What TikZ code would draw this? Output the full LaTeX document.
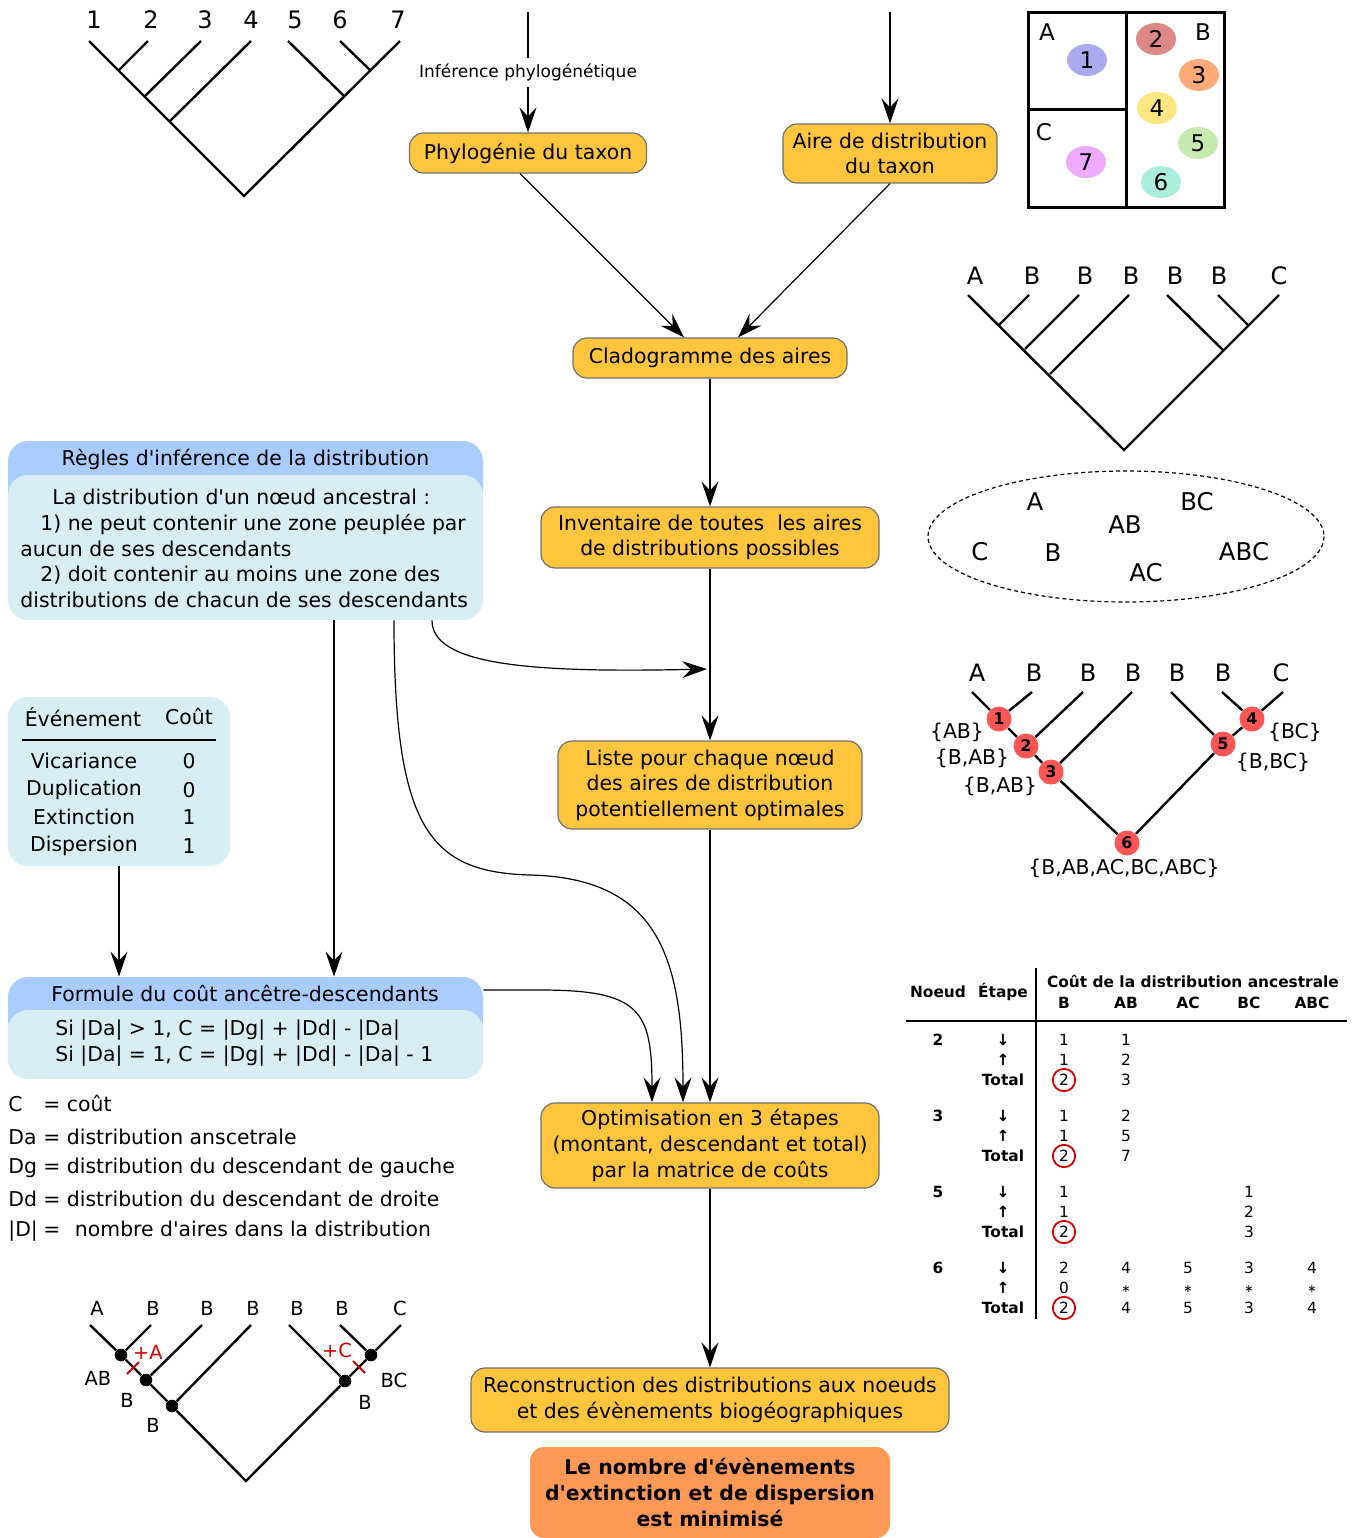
\documentclass[tikz,border=0pt]{standalone}
\usepackage{fontspec}
\setmainfont{DejaVu Sans}[Ligatures=TeXOff]
\usetikzlibrary{arrows.meta,shapes.geometric}
\definecolor{boxorange}{HTML}{FFC53D}
\definecolor{boxedge}{HTML}{707070}
\definecolor{finalorange}{HTML}{FF9955}
\definecolor{headblue}{HTML}{AACCFF}
\definecolor{bodyblue}{HTML}{D7EEF4}
\definecolor{markred}{HTML}{D40000}
\definecolor{nodered}{HTML}{FF5555}
\definecolor{zoneone}{HTML}{AAAAEE}
\definecolor{zonetwo}{HTML}{DE8787}
\definecolor{zonethree}{HTML}{FFAA77}
\definecolor{zonefour}{HTML}{FFE680}
\definecolor{zonefive}{HTML}{C6E9AF}
\definecolor{zonesix}{HTML}{AAEEDD}
\definecolor{zoneseven}{HTML}{EEAAFF}
\begin{document}
\begin{tikzpicture}[x=0.5pt,y=-0.5pt,
    every node/.style={inner sep=0pt,font=\fontsize{10.2}{12.8}\selectfont},
    stepbox/.style={draw=boxedge,fill=boxorange,line width=0.6pt,rounded corners=7pt,align=center},
    finalbox/.style={fill=finalorange,rounded corners=7pt,align=center,font=\fontsize{10.2}{12.8}\selectfont\bfseries},
    headbox/.style={fill=headblue,rounded corners=10pt},
    bodybox/.style={fill=bodyblue,rounded corners=10pt},
    arr/.style={line width=0.6pt,-{Stealth[length=12.5pt,width=8.5pt,inset=4.5pt]}},
    branch/.style={line width=1.2pt},
    leaflabel/.style={font=\fontsize{12}{14}\selectfont},
    smalltree/.style={font=\fontsize{9.7}{11}\selectfont},
    blackdot/.style={circle,fill=black,minimum size=6.3pt},
    rnode/.style={circle,fill=nodered,minimum size=12.5pt,font=\fontsize{8}{9}\selectfont\bfseries},
    areablob/.style={ellipse,minimum width=20pt,minimum height=16pt,font=\fontsize{11.5}{13}\selectfont},
    tabcell/.style={font=\fontsize{7.7}{9}\selectfont},
    tabbold/.style={font=\fontsize{7.7}{9}\selectfont\bfseries}]
    \useasboundingbox (0,0) rectangle (1359,1538);

    % phylogeny of the taxon
    \foreach \x/\n in {94/1,151/2,205/3,251/4,295/5,340/6,398/7}
        \node[leaflabel] (pl\n) at (\x,20) {\n};
    \foreach \x [count=\i] in {89,148,201,251,288,340,400}
        \coordinate (pt\i) at (\x,41);
    \coordinate (pa) at (119,70);
    \coordinate (pb) at (145,96);
    \coordinate (pc) at (170,121);
    \coordinate (pd) at (370,70);
    \coordinate (pe) at (344,96);
    \coordinate (proot) at (244,196);
    \draw[branch] (pt1) -- (proot) -- (pt7);
    \draw[branch] (pt2) -- (pa) (pt3) -- (pb) (pt4) -- (pc) (pt5) -- (pe) (pt6) -- (pd);

    % map of the areas
    \draw[line width=1.5pt] (1028,12) rectangle (1224,207);
    \draw[line width=1.5pt] (1126,12) -- (1126,207) (1028,109) -- (1126,109);
    \node[font=\fontsize{11.5}{13}\selectfont] (zoneA) at (1047,32) {A};
    \node[font=\fontsize{11.5}{13}\selectfont] (zoneB) at (1203,32) {B};
    \node[font=\fontsize{11.5}{13}\selectfont] (zoneC) at (1044,132) {C};
    \node[areablob,fill=zoneone] (sp1) at (1087,60) {1};
    \node[areablob,fill=zonetwo] (sp2) at (1156,39) {2};
    \node[areablob,fill=zonethree] (sp3) at (1199,75) {3};
    \node[areablob,fill=zonefour] (sp4) at (1157,108) {4};
    \node[areablob,fill=zonefive] (sp5) at (1198,143) {5};
    \node[areablob,fill=zonesix] (sp6) at (1161,182) {6};
    \node[areablob,fill=zoneseven] (sp7) at (1086,162) {7};

    % main steps
    \node[stepbox,minimum width=118.5pt,minimum height=20pt] (phylo) at (528,153) {Phylogénie du taxon};
    \node[stepbox,minimum width=107pt,minimum height=29.5pt] (aire) at (890,153.5) {Aire de distribution\\du taxon};
    \node[stepbox,minimum width=137pt,minimum height=20pt] (clado) at (710,358) {Cladogramme des aires};
    \node[stepbox,minimum width=169pt,minimum height=30.5pt] (invent) at (710,537.5) {Inventaire de toutes\ \ les aires\\de distributions possibles};
    \node[stepbox,minimum width=152pt,minimum height=44pt] (liste) at (710,785) {Liste pour chaque nœud\\des aires de distribution\\potentiellement optimales};
    \node[stepbox,minimum width=169pt,minimum height=42.5pt] (optim) at (710,1145.5) {Optimisation en 3 étapes\\(montant, descendant et total)\\par la matrice de coûts};
    \node[stepbox,minimum width=239pt,minimum height=32pt] (recon) at (710,1400) {Reconstruction des distributions aux noeuds\\et des évènements biogéographiques};
    \node[finalbox,minimum width=180pt,minimum height=45.5pt] (result) at (710,1492.5) {Le nombre d'évènements\\d'extinction et de dispersion\\est minimisé};

    \coordinate (phylosrc) at (528,12);
    \coordinate (airesrc) at (890,12);
    \draw[arr] (phylosrc) -- node[fill=white,inner xsep=1pt,inner ysep=3pt,font=\fontsize{8.5}{10}\selectfont] (inferlbl) {Inférence phylogénétique} (phylo.north);
    \draw[arr] (airesrc) -- (aire.north);
    \draw[arr] ([xshift=-4pt]phylo.south) -- ([xshift=-13pt]clado.north);
    \draw[arr] (aire.south) -- ([xshift=14pt]clado.north);
    \draw[arr] (clado) -- (invent);
    \draw[arr] (invent) -- (liste);
    \draw[arr] (liste) -- (optim);
    \draw[arr] (optim) -- (recon);

    % inference rules
    \node[headbox,minimum width=237.5pt,minimum height=44.5pt] (ruleshead) at (245.5,485.5) {};
    \node[bodybox,minimum width=237.5pt,minimum height=72.5pt] (rules) at (245.5,547.5) {};
    \node (rulestitle) at (245.5,459) {Règles d'inférence de la distribution};
    \node[align=left,anchor=north west] (rulestext) at (20,489) {\hspace*{16pt}La distribution d'un nœud ancestral :\\\hspace*{10pt}1) ne peut contenir une zone peuplée par\\aucun de ses descendants\\\hspace*{10pt}2) doit contenir au moins une zone des\\distributions de chacun de ses descendants};

    % event costs
    \node[bodybox,minimum width=111pt,minimum height=84.5pt] (events) at (119,781.5) {};
    \node (evhead) at (83,717) {Événement};
    \node (costhead) at (189,716) {Coût};
    \draw[line width=0.6pt] (22,740) -- (216,740);
    \foreach \y/\ev/\c in {761/Vicariance/0,790/Duplication/0,817/Extinction/1,846/Dispersion/1} {
        \node (ev\y) at (84,\y) {\ev};
        \node (cost\y) at (189,\y) {\c};
    }

    % cost formula
    \node[headbox,minimum width=237.5pt,minimum height=31.5pt] (formhead) at (245.5,1008.5) {};
    \node[bodybox,minimum width=237.5pt,minimum height=34.5pt] (formula) at (245.5,1044.5) {};
    \node (formtitle) at (245,993) {Formule du coût ancêtre-descendants};
    \node[align=left,anchor=west] (formtext) at (55,1043) {Si |Da| > 1, C = |Dg| + |Dd| - |Da|\\Si |Da| = 1, C = |Dg| + |Dd| - |Da| - 1};

    \draw[arr] (events.south) -- (events.south |- formhead.north);
    \draw[arr] ([xshift=44.25pt]rules.south) -- ([xshift=44.25pt]formhead.north);
    \coordinate (j1) at (707,669);
    \draw[arr] ([xshift=93.25pt]rules.south) .. controls (432,665) and (530,673) .. (j1);
    \draw[arr] ([xshift=74.25pt]rules.south) .. controls (394,830) and (430,872) .. (530,875)
        .. controls (660,878) and (683,960) .. ([xshift=-13.5pt]optim.north);
    \draw[arr] ([yshift=9.25pt]formhead.east) -- (540,990) .. controls (640,990) and (652,1010) .. ([xshift=-29pt]optim.north);

    % legend
    \foreach \y/\s/\d [count=\i] in {1111/C/= coût,1144/Da/= distribution anscetrale,1173/Dg/= distribution du descendant de gauche,1206/Dd/= distribution du descendant de droite,1236/{|D|}/{=\hspace{4pt} nombre d'aires dans la distribution}} {
        \node[anchor=base west] (sym\i) at (8,\y) {\s};
        \node[anchor=base west] (def\i) at (43,\y) {\d};
    }

    % area cladogram
    \foreach \x/\n [count=\i] in {975/A,1032/B,1085/B,1131/B,1175/B,1219/B,1279/C}
        \node[leaflabel] (cl\i) at (\x,276) {\n};
    \foreach \x [count=\i] in {968,1029,1079,1129,1167,1218,1279}
        \coordinate (ct\i) at (\x,295);
    \coordinate (ca) at (999,325);
    \coordinate (cb) at (1025,349);
    \coordinate (cc) at (1050,374);
    \coordinate (cd) at (1248,325);
    \coordinate (ce) at (1223,350);
    \coordinate (croot) at (1124,450);
    \draw[branch] (ct1) -- (croot) -- (ct7);
    \draw[branch] (ct2) -- (ca) (ct3) -- (cb) (ct4) -- (cc) (ct5) -- (ce) (ct6) -- (cd);

    % possible distributions
    \draw[line width=0.6pt,dash pattern=on 2pt off 1.5pt] (1126,536.5) ellipse [x radius=198, y radius=65.5];
    \foreach \x/\y/\d in {1035/502/A,1197/502/BC,1125/525/AB,980/552/C,1053/553/B,1244/552/ABC,1146/573/AC}
        \node[font=\fontsize{12.2}{14}\selectfont] (set\d) at (\x,\y) {\d};

    % candidate distributions at nodes
    \foreach \x/\n [count=\i] in {977/A,1034/B,1088/B,1133/B,1177/B,1223/B,1281/C}
        \node[leaflabel] (rl\i) at (\x,673) {\n};
    \foreach \x [count=\i] in {972,1032,1083,1132,1171,1222,1283}
        \coordinate (rt\i) at (\x,692);
    \node[rnode] (r1) at (999,719) {1};
    \node[rnode] (r2) at (1026,746) {2};
    \node[rnode] (r3) at (1051,772) {3};
    \node[rnode] (r4) at (1252,719) {4};
    \node[rnode] (r5) at (1223,744) {5};
    \node[rnode] (r6) at (1127,843) {6};
    \draw[branch] (rt1) -- (r1) -- (r2) -- (r3) -- (r6) -- (r5) -- (r4) -- (rt7);
    \draw[branch] (rt2) -- (r1) (rt3) -- (r2) (rt4) -- (r3) (rt5) -- (r5) (rt6) -- (r4);
    \node (set1) at (957,732) {\{AB\}};
    \node (set2) at (972,758) {\{B,AB\}};
    \node (set3) at (1000,786) {\{B,AB\}};
    \node (set4) at (1295,732) {\{BC\}};
    \node (set5) at (1273,762) {\{B,BC\}};
    \node (set6) at (1124,868) {\{B,AB,AC,BC,ABC\}};

    % cost matrix
    \node[tabbold] (hnode) at (938,992) {Noeud};
    \node[tabbold] (hstep) at (1003,992) {Étape};
    \node[tabbold] (hcost) at (1193,981) {Coût de la distribution ancestrale};
    \foreach \x/\d in {1064/B,1126/AB,1188/AC,1249/BC,1312/ABC}
        \node[tabbold] (col\d) at (\x,1003) {\d};
    \draw[line width=0.7pt] (1036,968) -- (1036,1319);
    \draw[line width=0.7pt] (906,1021) -- (1347,1021);
    \foreach \g/\y in {2/1040,3/1116,5/1192,6/1268} {
        \node[tabbold] (g\g) at (938,\y) {\g};
        \node[tabbold] (down\g) at (1003,\y) {↓};
        \node[tabbold] (up\g) at (1003,\y+20) {↑};
        \node[tabbold] (tot\g) at (1003,\y+40) {Total};
        \node[tabcell] (best\g) at (1064,\y+40) {2};
        \draw[markred,line width=0.9pt] (best\g) circle [radius=5.6pt];
    }
    \foreach \x/\y/\v [count=\i] in {1064/1040/1,1064/1060/1,1126/1040/1,1126/1060/2,1126/1080/3,
        1064/1116/1,1064/1136/1,1126/1116/2,1126/1136/5,1126/1156/7,
        1064/1192/1,1064/1212/1,1249/1192/1,1249/1212/2,1249/1232/3,
        1064/1268/2,1064/1288/0,1126/1268/4,1126/1308/4,1188/1268/5,1188/1308/5,
        1249/1268/3,1249/1308/3,1312/1268/4,1312/1308/4}
        \node[tabcell] (v\i) at (\x,\y) {\v};
    \foreach \x in {1126,1188,1249,1312}
        \node[font=\fontsize{5.5}{6}\selectfont] (star\x) at (\x,1289) {∗};

    % reconstructed history
    \foreach \x/\n [count=\i] in {97/A,153/B,207/B,253/B,297/B,342/B,400/C}
        \node[smalltree] (bl\i) at (\x,1308) {\n};
    \foreach \x [count=\i] in {90,151,202,251,289,340,401}
        \coordinate (bt\i) at (\x,1325);
    \node[blackdot] (b1) at (121,1355) {};
    \node[blackdot] (b2) at (146,1380) {};
    \node[blackdot] (b3) at (172,1406) {};
    \node[blackdot] (b4) at (371,1355) {};
    \node[blackdot] (b5) at (345,1381) {};
    \coordinate (broot) at (246,1481);
    \draw[branch] (bt1) -- (b1) -- (b2) -- (b3) -- (broot) -- (b5) -- (b4) -- (bt7);
    \draw[branch] (bt2) -- (b1) (bt3) -- (b2) (bt4) -- (b3) (bt5) -- (b5) (bt6) -- (b4);
    \draw[markred,line width=1pt] (127,1374) -- (139,1362);
    \draw[markred,line width=1pt] (353,1361) -- (365,1373);
    \node[smalltree,text=markred] (gainA) at (148,1352) {+A};
    \node[smalltree,text=markred] (gainC) at (337,1350) {+C};
    \node[smalltree] (h1) at (98,1378) {AB};
    \node[smalltree] (h2) at (127,1400) {B};
    \node[smalltree] (h3) at (153,1425) {B};
    \node[smalltree] (h4) at (394,1380) {BC};
    \node[smalltree] (h5) at (365,1402) {B};
\end{tikzpicture}
\end{document}
